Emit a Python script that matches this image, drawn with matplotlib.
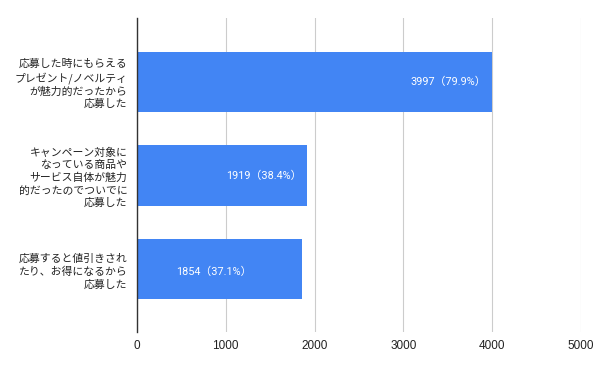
import matplotlib
matplotlib.use("Agg")
import matplotlib.pyplot as plt

plt.rcParams['font.family'] = ['Roboto', 'Noto Sans CJK JP', 'DejaVu Sans']

categories = [
    "応募した時にもらえる\nプレゼント/ノベルティ\nが魅力的だったから\n応募した",
    "キャンペーン対象に\nなっている商品や\nサービス自体が魅力\n的だったのでついでに\n応募した",
    "応募すると値引きされ\nたり、お得になるから\n応募した",
]
values = [3997, 1919, 1854]
bar_labels = ["3997（79.9%）", "1919（38.4%）", "1854（37.1%）"]
xticks = [0, 1000, 2000, 3000, 4000, 5000]

fig = plt.figure(figsize=(6, 3.71), dpi=100)
ax = fig.add_axes([0.2283, 0.1051, 0.74, 0.8464])

color = "#4285F4"
ypos = list(range(len(values)))
ax.barh(ypos, values, height=0.645, color=color, zorder=3)

ax.set_ylim(len(values) - 1 + 0.67, -0.68)
ax.set_xlim(0, 5000)
ax.set_xticks(xticks)
ax.set_xticklabels([str(t) for t in xticks], fontsize=8.5, color="#222222",
                   family=['Liberation Sans', 'DejaVu Sans'])
ax.set_yticks(ypos)
ax.set_yticklabels(categories, fontsize=7.8, color="#222222",
                   family=['Noto Sans CJK JP', 'DejaVu Sans'], linespacing=1.3,
                   ha='right')
ax.tick_params(axis='both', length=0)
ax.tick_params(axis='y', pad=7)
ax.tick_params(axis='x', pad=6)

ax.grid(axis='x', color="#cccccc", linewidth=0.8, zorder=0)
for s in ['top', 'right', 'bottom']:
    ax.spines[s].set_visible(False)
ax.spines['left'].set_color("#333333")
ax.spines['left'].set_linewidth(1.0)
ax.spines['left'].set_zorder(4)

for i, (v, lab) in enumerate(zip(values, bar_labels)):
    if i < 2:
        ax.annotate(lab, xy=(v, i), xytext=(-4, 0), textcoords='offset points',
                    ha='right', va='center', color='white', fontsize=7.8, zorder=5)
    else:
        ax.annotate(lab, xy=(v / 2, i), xytext=(-4, -2), textcoords='offset points',
                    ha='center', va='center', color='white', fontsize=7.8, zorder=5)

fig.savefig("out.png", dpi=100, facecolor='white')
